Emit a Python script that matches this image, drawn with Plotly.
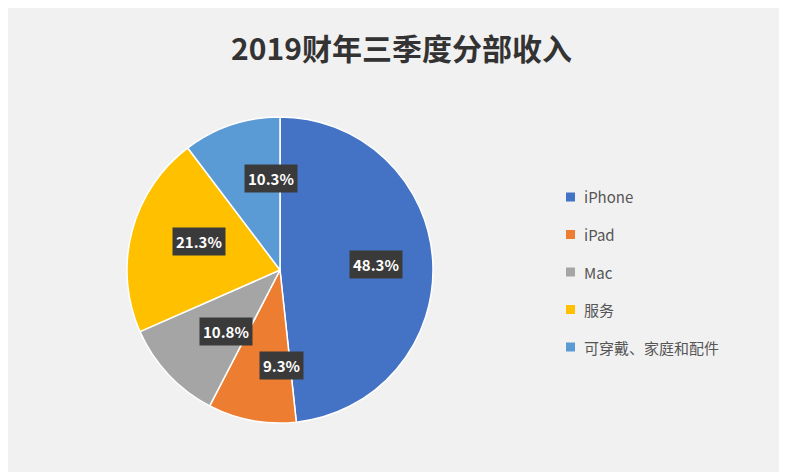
import math
import plotly.graph_objects as go

categories = ["iPhone", "iPad", "Mac", "服务", "可穿戴、家庭和配件"]
values = [48.3, 9.3, 10.8, 21.3, 10.3]
colors = ["#4472C4", "#ED7D31", "#A5A5A5", "#FFC000", "#5B9BD5"]

W, H = 787, 472
cx, cy, R = 280, 270, 153
ox, oy = 8, 8  # rendering offset compensation
dom_x = [(cx - ox - R) / W, (cx - ox + R) / W]
dom_y = [1 - (cy - oy + R) / H, 1 - (cy - oy - R) / H]

fig = go.Figure(go.Pie(
    labels=categories, values=values, sort=False, direction="clockwise",
    rotation=0, marker=dict(colors=colors, line=dict(color="white", width=1.5)),
    textinfo="none", hoverinfo="label+percent", showlegend=False,
    domain=dict(x=dom_x, y=dom_y),
))

total = sum(values)
ann = []
shapes = []
acc = 0
for v in values:
    mid = (acc + v / 2) / total * 2 * math.pi
    acc += v
    r = (0.63 if v > 40 else 0.73) * R
    px = cx - ox + r * math.sin(mid)
    py = cy - oy - r * math.cos(mid)
    ann.append(dict(x=px / W, y=1 - py / H, xref="paper", yref="paper",
                    text=f"<b>{v:.1f}%</b>", showarrow=False,
                    font=dict(color="white", size=15, family="Noto Sans CJK SC"),
                    bgcolor="#3a3a3a", borderpad=3))

# manual legend
lx, ly0, dy = 566, 197, 37.5
for i, (c, col) in enumerate(zip(categories, colors)):
    y = ly0 + i * dy - oy
    shapes.append(dict(type="rect", xref="paper", yref="paper",
                       x0=(lx - ox) / W, x1=(lx - ox + 9) / W,
                       y0=1 - (y + 4.5) / H, y1=1 - (y - 4.5) / H,
                       fillcolor=col, line=dict(width=0)))
    ann.append(dict(x=(lx - ox + 16) / W, y=1 - y / H, xref="paper", yref="paper",
                    xanchor="left", yanchor="middle", text=c, showarrow=False,
                    font=dict(size=15, color="#555555", family="Noto Sans CJK SC")))

fig.update_layout(
    width=W, height=H, margin=dict(l=0, r=0, t=0, b=0),
    paper_bgcolor="#f1f1f1", plot_bgcolor="#f1f1f1",
    title=dict(text="<b>2019财年三季度分部收入</b>", x=0.5, y=0.935, xanchor="center",
               font=dict(size=30, color="#333333", family="Noto Sans CJK SC")),
    annotations=ann, shapes=shapes,
)
fig.write_html("out.html")
